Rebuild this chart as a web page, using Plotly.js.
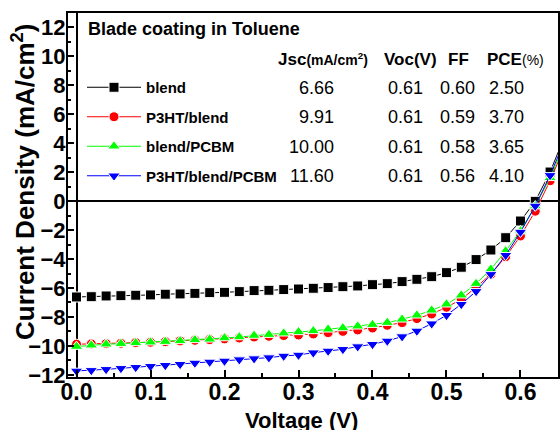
<!DOCTYPE html>
<html>
<head>
<meta charset="utf-8">
<script src="https://cdn.plot.ly/plotly-3.0.1.min.js"></script>
<style>html,body{margin:0;padding:0;background:#fff;}#chart{width:560px;height:430px;}</style>
</head>
<body>
<div id="chart"></div>
<script>
// ---- data ----
const voltage = [0,0.02,0.04,0.06,0.08,0.10,0.12,0.14,0.16,0.18,0.20,0.22,0.24,0.26,0.28,0.30,0.32,0.34,0.36,0.38,0.40,0.42,0.44,0.46,0.48,0.50,0.52,0.54,0.56,0.58,0.60,0.62,0.64,0.66];
const jBlend = [-6.62,-6.60,-6.55,-6.53,-6.50,-6.48,-6.43,-6.41,-6.37,-6.32,-6.30,-6.25,-6.18,-6.16,-6.11,-6.07,-6.02,-5.97,-5.91,-5.86,-5.77,-5.70,-5.56,-5.40,-5.22,-4.94,-4.57,-4.04,-3.38,-2.53,-1.38,-0.02,2.0,4.5];
const jP3htBlend = [-9.88,-9.86,-9.84,-9.81,-9.77,-9.74,-9.70,-9.65,-9.61,-9.56,-9.51,-9.45,-9.38,-9.33,-9.28,-9.24,-9.17,-9.08,-8.99,-8.89,-8.76,-8.57,-8.39,-8.11,-7.79,-7.33,-6.78,-5.95,-5.05,-3.84,-2.41,-0.70,1.40,3.8];
const jBlendPcbm = [-10.04,-9.95,-9.88,-9.84,-9.79,-9.74,-9.70,-9.65,-9.58,-9.54,-9.45,-9.38,-9.28,-9.22,-9.12,-9.03,-8.96,-8.85,-8.76,-8.64,-8.53,-8.39,-8.16,-7.88,-7.54,-7.12,-6.50,-5.70,-4.71,-3.45,-2.07,-0.35,1.60,4.0];
const jP3htBlendPcbm = [-11.72,-11.68,-11.61,-11.54,-11.47,-11.40,-11.33,-11.26,-11.17,-11.10,-11.03,-10.94,-10.87,-10.80,-10.69,-10.62,-10.46,-10.34,-10.23,-10.04,-9.88,-9.65,-9.35,-8.96,-8.46,-7.88,-7.12,-6.23,-5.06,-3.74,-2.14,-0.34,1.77,4.2];

const seriesNames = ['blend','P3HT/blend','blend/PCBM','P3HT/blend/PCBM'];
const seriesData = [jBlend, jP3htBlend, jBlendPcbm, jP3htBlendPcbm];
const seriesColors = ['#000000','#ff0000','#00ff00','#0000ff'];
const seriesSymbols = ['square','circle','triangle-up','triangle-down'];
const seriesSizes = [10,10,11,11];

const tableTitle = 'Blade coating in Toluene';
const colJsc = ['6.66','9.91','10.00','11.60'];
const colVoc = ['0.61','0.61','0.61','0.61'];
const colFF = ['0.60','0.59','0.58','0.56'];
const colPCE = ['2.50','3.70','3.65','4.10'];

const xTickVals = [0,0.1,0.2,0.3,0.4,0.5,0.6];
const xTickText = ['0.0','0.1','0.2','0.3','0.4','0.5','0.6'];
const yTickVals = [-12,-10,-8,-6,-4,-2,0,2,4,6,8,10,12];

// ---- layout helpers (pixel -> paper) ----
const L = 68, R = 558, T = 13, B = 377;
const px = x => (x - L) / (R - L);
const py = y => (B - y) / (B - T);
const FONT = 'Liberation Sans, Arial, Helvetica, sans-serif';

const traces = seriesNames.map((n, i) => ({
  type: 'scatter', mode: 'lines+markers', name: n,
  x: voltage, y: seriesData[i],
  legendgroup: 'g' + i,
  line: {color: seriesColors[i], width: 1},
  marker: {symbol: seriesSymbols[i], size: seriesSizes[i], color: seriesColors[i],
           line: {color: '#ffffff', width: 1}},
  cliponaxis: true
}));

const rowY = [88.3, 117.3, 146.7, 175.7];
const ann = [];
function txt(text, x, y, size, bold, xanchor, extra) {
  ann.push(Object.assign({
    text: text, xref: 'paper', yref: 'paper', x: px(x), y: py(y),
    xanchor: xanchor, yanchor: 'middle', showarrow: false,
    font: {family: FONT, size: size, color: '#000', weight: bold ? 'bold' : 'normal'}
  }, extra || {}));
}
txt(tableTitle, 86, 29, 18, true, 'left');
txt('Jsc<span style="font-size:14px">(mA/cm<sup>2</sup>)</span>', 276, 59, 17, true, 'left');
txt('Voc(V)', 382, 59, 17, true, 'left');
txt('FF', 446, 59, 17, true, 'left');
txt('PCE<span style="font-size:14px;font-weight:normal">(%)</span>', 485, 59, 17, true, 'left');
for (let i = 0; i < 4; i++) {
  txt(colJsc[i], 336, rowY[i], 18, false, 'right');
  txt(colVoc[i], 405, rowY[i], 18, false, 'center');
  txt(colFF[i], 457.5, rowY[i], 18, false, 'center');
  txt(colPCE[i], 506, rowY[i], 18, false, 'center');
}
// axis titles
txt('Voltage (V)', 301.7, 420, 22, true, 'center');
txt('Current Density (mA/cm<sup>2</sup>)', 23, 182, 26, true, 'center', {textangle: -90});

const axisCommon = {
  showgrid: false, showline: true, linewidth: 2, linecolor: '#000', mirror: true,
  ticks: 'inside', tickwidth: 2, tickcolor: '#000',
  zeroline: true, zerolinecolor: '#000', zerolinewidth: 2
};

const layout = {
  width: 560, height: 430,
  margin: {l: L, r: 560 - R, t: T, b: 430 - B, pad: 0},
  paper_bgcolor: '#fff', plot_bgcolor: '#fff',
  font: {family: FONT, color: '#000'},
  showlegend: true,
  legend: {
    x: px(82), y: py(71), xanchor: 'left', yanchor: 'top',
    bgcolor: 'rgba(0,0,0,0)', borderwidth: 0,
    font: {family: FONT, size: 15, color: '#000', weight: 'bold'},
    traceorder: 'grouped', tracegroupgap: 7, itemwidth: 54
  },
  xaxis: Object.assign({}, axisCommon, {
    range: [-0.0115, 0.6507], tickvals: xTickVals, ticktext: xTickText, ticklen: 7,
    ticklabelstandoff: -7,
    tickfont: {family: FONT, size: 23, weight: 'bold', color: '#000'},
    minor: {dtick: 0.05, tick0: 0, ticks: 'inside', ticklen: 4, tickwidth: 2, tickcolor: '#000', showgrid: false}
  }),
  yaxis: Object.assign({}, axisCommon, {
    range: [-12.14, 12.97], tickvals: yTickVals, ticklen: 6,
    ticklabelstandoff: -4,
    tickfont: {family: FONT, size: 22, weight: 'bold', color: '#000'},
    minor: {dtick: 1, tick0: 0, ticks: 'inside', ticklen: 3, tickwidth: 2, tickcolor: '#000', showgrid: false}
  }),
  annotations: ann
};

Plotly.newPlot('chart', traces, layout, {staticPlot: true, displayModeBar: false});
</script>
</body>
</html>
